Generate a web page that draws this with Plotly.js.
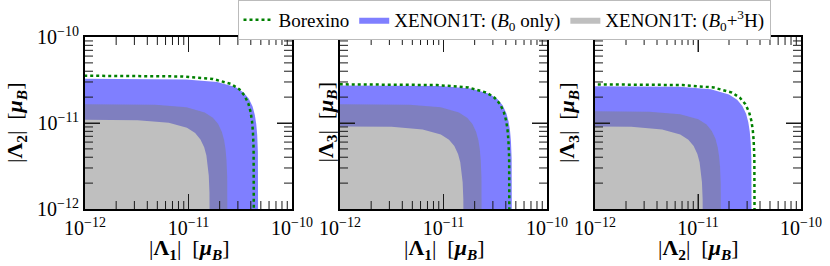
<!DOCTYPE html>
<html>
<head>
<meta charset="utf-8">
<script src="https://cdn.plot.ly/plotly-3.0.1.min.js"></script>
<style>html,body{margin:0;padding:0;background:#fff;}#chart{width:830px;height:266px;}</style>
</head>
<body>
<div id="chart"></div>
<script>
// All boundary values are in units of 1e-11 mu_B
// Panel 1: |Λ1| (x) vs |Λ2| (y)
const p1_bor_x  = [0.086, 0.86, 1.72, 2.58, 3.096, 3.483, 3.784, 3.978, 4.107, 4.193, 4.257, 4.291, 4.3];
const p1_bor_y  = [3.55, 3.479, 3.254, 2.84, 2.464, 2.082, 1.686, 1.349, 1.053, 0.788, 0.5006, 0.2244, 0.01];
const p1_out_x  = [0.0946, 0.946, 1.892, 2.838, 3.406, 3.831, 4.162, 4.375, 4.517, 4.612, 4.683, 4.721, 4.73];
const p1_out_y  = [3.27, 3.205, 2.997, 2.616, 2.269, 1.918, 1.553, 1.243, 0.970, 0.726, 0.461, 0.2067, 0.01];
const p1_h3_x   = [0.0478, 0.478, 0.956, 1.434, 1.721, 1.936, 2.103, 2.211, 2.282, 2.330, 2.366, 2.385, 2.39];
const p1_h3_y   = [1.66, 1.627, 1.521, 1.328, 1.152, 0.973, 0.7885, 0.631, 0.492, 0.3685, 0.234, 0.1049, 0.01];
const p1_in_x   = [0.0322, 0.322, 0.644, 0.966, 1.159, 1.304, 1.417, 1.489, 1.538, 1.570, 1.594, 1.607, 1.61];
const p1_in_y   = [1.10, 1.078, 1.008, 0.88, 0.763, 0.645, 0.5225, 0.418, 0.326, 0.244, 0.155, 0.0695, 0.01];
// Panel 2: |Λ1| (x) vs |Λ3| (y)
const p2_bor_x  = [0.087, 0.87, 1.74, 2.61, 3.132, 3.524, 3.828, 4.024, 4.154, 4.241, 4.307, 4.341, 4.35];
const p2_bor_y  = [2.82, 2.764, 2.585, 2.256, 1.957, 1.654, 1.340, 1.072, 0.836, 0.626, 0.398, 0.178, 0.01];
const p2_out_x  = [0.092, 0.92, 1.84, 2.76, 3.312, 3.726, 4.048, 4.255, 4.393, 4.485, 4.554, 4.591, 4.6];
const p2_out_y  = [2.74, 2.685, 2.511, 2.192, 1.902, 1.607, 1.302, 1.041, 0.813, 0.608, 0.386, 0.173, 0.01];
const p2_h3_x   = [0.047, 0.47, 0.94, 1.41, 1.692, 1.904, 2.068, 2.174, 2.244, 2.291, 2.327, 2.345, 2.35];
const p2_h3_y   = [1.66, 1.627, 1.521, 1.328, 1.152, 0.973, 0.7885, 0.631, 0.492, 0.3685, 0.234, 0.1049, 0.01];
const p2_in_x   = [0.0314, 0.314, 0.628, 0.942, 1.130, 1.272, 1.382, 1.452, 1.499, 1.531, 1.554, 1.567, 1.57];
const p2_in_y   = [0.92, 0.9016, 0.843, 0.736, 0.638, 0.5395, 0.437, 0.350, 0.273, 0.204, 0.130, 0.0581, 0.01];
// Panel 3: |Λ2| (x) vs |Λ3| (y)
const p3_bor_x  = [0.0712, 0.712, 1.424, 2.136, 2.563, 2.884, 3.133, 3.293, 3.400, 3.471, 3.524, 3.553, 3.56];
const p3_bor_y  = [2.82, 2.764, 2.585, 2.256, 1.957, 1.654, 1.340, 1.072, 0.836, 0.626, 0.398, 0.178, 0.01];
const p3_out_x  = [0.0666, 0.666, 1.332, 1.998, 2.398, 2.697, 2.930, 3.080, 3.180, 3.247, 3.297, 3.323, 3.33];
const p3_out_y  = [2.69, 2.636, 2.465, 2.152, 1.867, 1.577, 1.278, 1.022, 0.798, 0.597, 0.379, 0.170, 0.01];
const p3_h3_x   = [0.0336, 0.336, 0.672, 1.008, 1.210, 1.361, 1.478, 1.554, 1.604, 1.638, 1.663, 1.677, 1.68];
const p3_h3_y   = [1.38, 1.352, 1.265, 1.104, 0.958, 0.809, 0.6555, 0.524, 0.409, 0.306, 0.195, 0.0872, 0.01];
const p3_in_x   = [0.0224, 0.224, 0.448, 0.672, 0.806, 0.907, 0.986, 1.036, 1.070, 1.092, 1.109, 1.118, 1.12];
const p3_in_y   = [0.92, 0.9016, 0.843, 0.736, 0.638, 0.5395, 0.437, 0.350, 0.273, 0.204, 0.130, 0.0581, 0.01];

const majorTicks = [1e-12, 1e-11, 1e-10];
const majorText  = ['10<sup>−12</sup>', '10<sup>−11</sup>', '10<sup>−10</sup>'];
const minorTicks = [2e-12, 3e-12, 4e-12, 5e-12, 6e-12, 7e-12, 8e-12, 9e-12,
                    2e-11, 3e-11, 4e-11, 5e-11, 6e-11, 7e-11, 8e-11, 9e-11];
const seriesNames = ['Borexino', 'XENON1T: (<i>B</i><sub>0</sub> only)', 'XENON1T: (<i>B</i><sub>0</sub>+<sup>3</sup>H)'];
const xTitles = ['|<b>Λ</b><sub><b>1</b></sub>|  [<b><i>μ</i></b><sub><b><i>B</i></b></sub>]',
                 '|<b>Λ</b><sub><b>1</b></sub>|  [<b><i>μ</i></b><sub><b><i>B</i></b></sub>]',
                 '|<b>Λ</b><sub><b>2</b></sub>|  [<b><i>μ</i></b><sub><b><i>B</i></b></sub>]'];
const yTitles = ['|<b>Λ</b><sub><b>2</b></sub>|  [<b><i>μ</i></b><sub><b><i>B</i></b></sub>]',
                 '|<b>Λ</b><sub><b>3</b></sub>|  [<b><i>μ</i></b><sub><b><i>B</i></b></sub>]',
                 '|<b>Λ</b><sub><b>3</b></sub>|  [<b><i>μ</i></b><sub><b><i>B</i></b></sub>]'];

const UNIT = 1e-11;
const CORNER = 0.001; // (in units) far outside the axis range, bottom-left corner
const sc = a => a.map(v => v * UNIT);
const FONT = 'Liberation Serif';
const LOG_MIN = -12, LOG_MAX = -10;

const panels = [
  {bx: p1_bor_x, by: p1_bor_y, ox: p1_out_x, oy: p1_out_y, hx: p1_h3_x, hy: p1_h3_y, ix: p1_in_x, iy: p1_in_y},
  {bx: p2_bor_x, by: p2_bor_y, ox: p2_out_x, oy: p2_out_y, hx: p2_h3_x, hy: p2_h3_y, ix: p2_in_x, iy: p2_in_y},
  {bx: p3_bor_x, by: p3_bor_y, ox: p3_out_x, oy: p3_out_y, hx: p3_h3_x, hy: p3_h3_y, ix: p3_in_x, iy: p3_in_y}
];

const W = 830, H = 266;
const xDomPx = [[85, 292], [340, 547], [595, 801]];
const yDomPx = [37, 209];
const yDom = [(H - yDomPx[1]) / H, (H - yDomPx[0]) / H];

// inward tick marks on the four frame sides, as line segments in axis space
function tickTrace(xa, ya, wPx, hPx) {
  const xs = [], ys = [];
  const decX = (LOG_MAX - LOG_MIN) / wPx; // decades per pixel horizontally
  const decY = (LOG_MAX - LOG_MIN) / hPx; // decades per pixel vertically
  const lo = Math.pow(10, LOG_MIN), hi = Math.pow(10, LOG_MAX);
  const add = (vals, len) => vals.forEach(v => {
    const ly = Math.pow(10, len * decY), lx = Math.pow(10, len * decX);
    xs.push(v, v, null, v, v, null, lo, lo * lx, null, hi, hi / lx, null);
    ys.push(lo, lo * ly, null, hi, hi / ly, null, v, v, null, v, v, null);
  });
  add(minorTicks, 8);
  add([majorTicks[1]], 15);
  return {type: 'scatter', mode: 'lines', xaxis: xa, yaxis: ya, x: xs, y: ys,
          line: {color: '#1a1a1a', width: 1}, showlegend: false, hoverinfo: 'skip', connectgaps: false};
}

const traces = [];
panels.forEach((p, i) => {
  const xa = i === 0 ? 'x' : 'x' + (i + 1);
  const ya = i === 0 ? 'y' : 'y' + (i + 1);
  traces.push({
    type: 'scatter', mode: 'lines', xaxis: xa, yaxis: ya,
    x: sc(p.ox.concat(p.ix.slice().reverse())),
    y: sc(p.oy.concat(p.iy.slice().reverse())),
    fill: 'toself', fillcolor: 'rgba(0,0,255,0.5)', line: {width: 0, color: 'rgba(0,0,255,0.5)'},
    name: seriesNames[1], legendrank: 2, showlegend: i === 0, hoverinfo: 'skip'
  });
  traces.push({
    type: 'scatter', mode: 'lines', xaxis: xa, yaxis: ya,
    x: sc(p.hx.concat([CORNER])),
    y: sc(p.hy.concat([CORNER])),
    fill: 'toself', fillcolor: 'rgba(128,128,128,0.5)', line: {width: 0, color: 'rgba(128,128,128,0.5)'},
    name: seriesNames[2], legendrank: 3, showlegend: i === 0, hoverinfo: 'skip'
  });
  traces.push({
    type: 'scatter', mode: 'lines', xaxis: xa, yaxis: ya,
    x: sc(p.bx), y: sc(p.by),
    line: {color: '#008000', width: 2.5, dash: 'dot'},
    name: seriesNames[0], legendrank: 1, showlegend: i === 0, hoverinfo: 'skip'
  });
  const d = xDomPx[i];
  traces.push(tickTrace(xa, ya, d[1] - d[0], yDomPx[1] - yDomPx[0]));
});

function axis(extra) {
  return Object.assign({
    type: 'log', range: [LOG_MIN, LOG_MAX], showgrid: false,
    showline: true, linecolor: 'black', linewidth: 2, mirror: 'ticks',
    ticks: 'inside', ticklen: 15, tickwidth: 1, tickcolor: '#1a1a1a',
    tickvals: majorTicks, ticktext: majorText,
    tickfont: {family: FONT, size: 20, color: 'black'}
  }, extra);
}

const layout = {
  width: W, height: H,
  margin: {l: 0, r: 0, t: 0, b: 0},
  font: {family: FONT},
  showlegend: true,
  legend: {
    orientation: 'h', x: 504 / W, xanchor: 'center', y: 1, yanchor: 'top',
    bordercolor: '#bbbbbb', borderwidth: 1,
    font: {family: FONT, size: 19, color: 'black'},
    itemwidth: 30
  },
  annotations: []
};

xDomPx.forEach((d, i) => {
  const sfx = i === 0 ? '' : String(i + 1);
  layout['xaxis' + sfx] = axis({domain: [d[0] / W, d[1] / W], anchor: 'y' + sfx});
  layout['yaxis' + sfx] = axis({domain: yDom, anchor: 'x' + sfx, showticklabels: i === 0});
  layout.annotations.push({
    xref: 'paper', yref: 'paper', x: (d[0] + d[1]) / 2 / W, y: (H - 249) / H,
    xanchor: 'center', yanchor: 'middle', showarrow: false,
    text: xTitles[i], font: {family: FONT, size: 22, color: 'black'}
  });
});
const yTitleX = [16, 326.5, 568];
yTitleX.forEach((px, i) => {
  layout.annotations.push({
    xref: 'paper', yref: 'paper', x: px / W, y: (H - 123) / H,
    xanchor: 'center', yanchor: 'middle', showarrow: false, textangle: -90,
    text: yTitles[i], font: {family: FONT, size: 22, color: 'black'}
  });
});

Plotly.newPlot('chart', traces, layout, {displayModeBar: false, staticPlot: true});
</script>
</body>
</html>
